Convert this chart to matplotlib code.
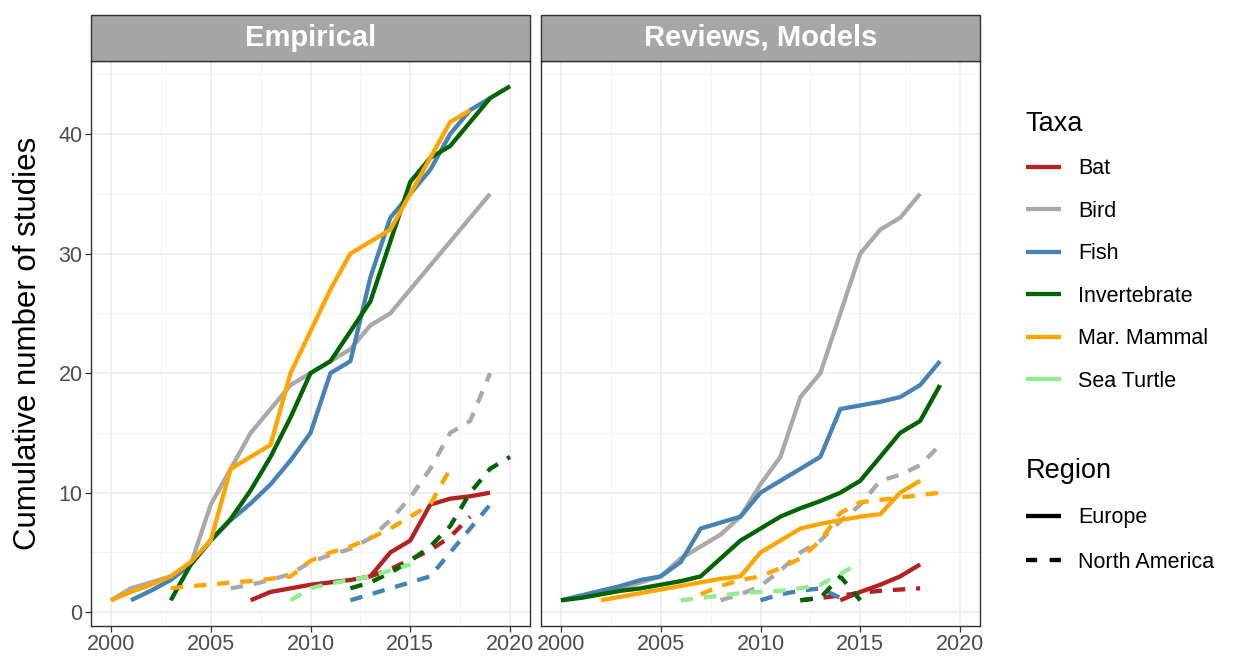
import matplotlib
matplotlib.use("Agg")
import matplotlib.pyplot as plt
from matplotlib.lines import Line2D
from matplotlib.patches import Rectangle
from matplotlib.ticker import MultipleLocator

plt.rcParams['font.family'] = ['Liberation Sans', 'DejaVu Sans']

# ---------------- data ----------------
taxa = ["Bat", "Bird", "Fish", "Invertebrate", "Mar. Mammal", "Sea Turtle"]
taxa_colors = ["#B22222", "#A9A9A9", "#4682B4", "#006400", "#FFA500", "#90EE90"]
regions = ["Europe", "North America"]
panels = ["Empirical", "Reviews, Models"]

# Empirical - Europe
emp_eu_bat_x = list(range(2007, 2020))
emp_eu_bat_y = [1, 1.7, 2, 2.3, 2.5, 2.7, 3, 5, 6, 9, 9.5, 9.7, 10]
emp_eu_bird_x = list(range(2000, 2020))
emp_eu_bird_y = [1, 2, 2.5, 3, 4, 9, 12, 15, 17, 19, 20, 21, 22, 24, 25, 27, 29, 31, 33, 35]
emp_eu_fish_x = list(range(2001, 2020))
emp_eu_fish_y = [1, 1.8, 2.7, 4, 6, 7.7, 9.1, 10.7, 12.7, 15, 20, 21, 28, 33, 35, 37, 40, 42, 43]
emp_eu_inv_x = list(range(2003, 2021))
emp_eu_inv_y = [1, 4, 6, 7.8, 10.2, 13, 16.3, 20, 21, 23.5, 26, 31, 36, 38, 39, 41, 43, 44]
emp_eu_mam_x = list(range(2000, 2019))
emp_eu_mam_y = [1, 1.7, 2.3, 3, 4.2, 6, 12, 13, 14, 20, 23.5, 27, 30, 31, 32, 35, 38, 41, 42]

# Empirical - North America
emp_na_bat_x = list(range(2013, 2019))
emp_na_bat_y = [3, 3.6, 4.4, 5.2, 6.3, 8]
emp_na_bird_x = list(range(2006, 2020))
emp_na_bird_y = [2, 2.3, 2.7, 3.2, 4.2, 4.8, 5.3, 6.2, 7.7, 9.6, 12, 15, 16, 20]
emp_na_fish_x = list(range(2012, 2020))
emp_na_fish_y = [1, 1.5, 2, 2.5, 3, 5, 7, 9]
emp_na_inv_x = list(range(2012, 2021))
emp_na_inv_y = [2, 2.5, 3.3, 4.3, 5.5, 7.2, 10, 12, 13]
emp_na_mam_x = list(range(2003, 2018))
emp_na_mam_y = [2, 2.2, 2.3, 2.5, 2.6, 2.8, 3, 4.3, 5, 5.5, 6.2, 7, 8, 9, 12]
emp_na_turtle_x = list(range(2009, 2016))
emp_na_turtle_y = [1, 2, 2.4, 2.7, 3, 3.5, 4]

# Reviews, Models - Europe
rev_eu_bat_x = list(range(2014, 2019))
rev_eu_bat_y = [1, 1.7, 2.3, 3, 4]
rev_eu_bird_x = list(range(2000, 2019))
rev_eu_bird_y = [1, 1.3, 1.7, 2, 2.5, 3, 4.5, 5.5, 6.5, 8, 10.7, 13, 18, 20, 25, 30, 32, 33, 35]
rev_eu_fish_x = list(range(2000, 2020))
rev_eu_fish_y = [1, 1.4, 1.8, 2.2, 2.7, 3, 4.2, 7, 7.5, 8, 10, 11, 12, 13, 17, 17.3, 17.6, 18, 19, 21]
rev_eu_inv_x = list(range(2000, 2020))
rev_eu_inv_y = [1, 1.2, 1.5, 1.8, 2, 2.3, 2.6, 3, 4.5, 6, 7, 8, 8.7, 9.3, 10, 11, 13, 15, 16, 19]
rev_eu_mam_x = list(range(2002, 2019))
rev_eu_mam_y = [1, 1.3, 1.6, 1.9, 2.2, 2.5, 2.8, 3, 5, 6, 7, 7.4, 7.7, 8, 8.2, 10, 11]

# Reviews, Models - North America
rev_na_bat_x = list(range(2012, 2019))
rev_na_bat_y = [1, 1.2, 1.4, 1.6, 1.8, 1.9, 2]
rev_na_bird_x = list(range(2008, 2020))
rev_na_bird_y = [1, 1.5, 2.2, 3.5, 5, 6, 7.6, 9, 11, 11.5, 12.3, 14]
rev_na_fish_x = list(range(2010, 2015))
rev_na_fish_y = [1, 1.5, 1.8, 2, 1.2]
rev_na_inv_x = list(range(2012, 2016))
rev_na_inv_y = [1, 1.2, 3, 1]
rev_na_mam_x = list(range(2007, 2020))
rev_na_mam_y = [1.5, 2.2, 2.7, 3, 3.7, 4.5, 6, 8.3, 9.2, 9.4, 9.6, 9.8, 10]
rev_na_turtle_x = list(range(2006, 2016))
rev_na_turtle_y = [1, 1.2, 1.4, 1.6, 1.7, 1.8, 2, 2.3, 3.2, 4.2]

# (panel, taxon, region, x, y)
series = [
    ("Empirical", "Bat", "Europe", emp_eu_bat_x, emp_eu_bat_y),
    ("Empirical", "Bat", "North America", emp_na_bat_x, emp_na_bat_y),
    ("Empirical", "Bird", "Europe", emp_eu_bird_x, emp_eu_bird_y),
    ("Empirical", "Bird", "North America", emp_na_bird_x, emp_na_bird_y),
    ("Empirical", "Fish", "Europe", emp_eu_fish_x, emp_eu_fish_y),
    ("Empirical", "Fish", "North America", emp_na_fish_x, emp_na_fish_y),
    ("Empirical", "Invertebrate", "Europe", emp_eu_inv_x, emp_eu_inv_y),
    ("Empirical", "Invertebrate", "North America", emp_na_inv_x, emp_na_inv_y),
    ("Empirical", "Mar. Mammal", "Europe", emp_eu_mam_x, emp_eu_mam_y),
    ("Empirical", "Mar. Mammal", "North America", emp_na_mam_x, emp_na_mam_y),
    ("Empirical", "Sea Turtle", "North America", emp_na_turtle_x, emp_na_turtle_y),
    ("Reviews, Models", "Bat", "Europe", rev_eu_bat_x, rev_eu_bat_y),
    ("Reviews, Models", "Bat", "North America", rev_na_bat_x, rev_na_bat_y),
    ("Reviews, Models", "Bird", "Europe", rev_eu_bird_x, rev_eu_bird_y),
    ("Reviews, Models", "Bird", "North America", rev_na_bird_x, rev_na_bird_y),
    ("Reviews, Models", "Fish", "Europe", rev_eu_fish_x, rev_eu_fish_y),
    ("Reviews, Models", "Fish", "North America", rev_na_fish_x, rev_na_fish_y),
    ("Reviews, Models", "Invertebrate", "Europe", rev_eu_inv_x, rev_eu_inv_y),
    ("Reviews, Models", "Invertebrate", "North America", rev_na_inv_x, rev_na_inv_y),
    ("Reviews, Models", "Mar. Mammal", "Europe", rev_eu_mam_x, rev_eu_mam_y),
    ("Reviews, Models", "Mar. Mammal", "North America", rev_na_mam_x, rev_na_mam_y),
    ("Reviews, Models", "Sea Turtle", "North America", rev_na_turtle_x, rev_na_turtle_y),
]

x_ticks = [2000, 2005, 2010, 2015, 2020]
y_ticks = [0, 10, 20, 30, 40]

# ---------------- figure ----------------
W, H = 1237, 661
fig = plt.figure(figsize=(W / 100, H / 100), dpi=100)

def px_rect(x0, x1, ytop, ybot):
    return [x0 / W, 1 - ybot / H, (x1 - x0) / W, (ybot - ytop) / H]

ax_top, ax_bot = 60.5, 626
axes = {
    "Empirical": fig.add_axes(px_rect(91, 530, ax_top, ax_bot)),
    "Reviews, Models": fig.add_axes(px_rect(541, 980, ax_top, ax_bot)),
}

color_of = dict(zip(taxa, taxa_colors))
LW = 3.1
DASH = (2.9, 2.5)

for i, (panel, taxon, region, xs, ys) in enumerate(series):
    ax = axes[panel]
    ln, = ax.plot(xs, ys, color=color_of[taxon], lw=LW,
                  solid_capstyle="butt", dash_capstyle="butt",
                  solid_joinstyle="round", zorder=3 + taxa.index(taxon) * 0.1)
    if region == "North America":
        ln.set_dashes(DASH)

strip_h = 45.5 / (ax_bot - ax_top)
for name, ax in axes.items():
    ax.set_xlim(1999, 2021)
    ax.set_ylim(-1.15, 46.15)
    ax.set_xticks(x_ticks)
    ax.set_yticks(y_ticks)
    ax.xaxis.set_minor_locator(MultipleLocator(2.5))
    ax.yaxis.set_minor_locator(MultipleLocator(5))
    ax.grid(which="major", color="#EBEBEB", lw=1.1, zorder=0)
    ax.grid(which="minor", color="#F2F2F2", lw=0.6, zorder=0)
    ax.set_axisbelow(True)
    for s in ax.spines.values():
        s.set_color("#333333")
        s.set_linewidth(1.0)
    ax.tick_params(which="minor", length=0)
    ax.tick_params(which="major", length=4, width=0.9, color="#333333",
                   labelsize=15.5, labelcolor="#4D4D4D", pad=2)
    ax.add_patch(Rectangle((0, 1), 1, strip_h, transform=ax.transAxes,
                           facecolor="#A6A6A6", edgecolor="#333333",
                           lw=1.0, clip_on=False, zorder=5))
    ax.text(0.5, 1 + strip_h / 2, name, transform=ax.transAxes,
            ha="center", va="center", color="white", fontsize=21,
            fontweight="bold", zorder=6)

axes["Empirical"].set_ylabel("Cumulative number of studies", fontsize=22.5,
                             color="black", labelpad=11)
axes["Reviews, Models"].tick_params(axis="y", left=False, labelleft=False)

# ---------------- legends ----------------
taxa_handles = [Line2D([0], [0], color=c, lw=LW, solid_capstyle="butt")
                for c in taxa_colors]
leg1 = fig.legend(taxa_handles, taxa, title="Taxa", loc="upper left",
                  bbox_to_anchor=(1017 / W, 1 - 102 / H), frameon=False,
                  fontsize=15.5, title_fontsize=19.5, handlelength=1.63,
                  labelspacing=1.0, handletextpad=0.8, borderaxespad=0)
leg1._legend_box.align = "left"

reg_handles = [Line2D([0], [0], color="black", lw=LW, solid_capstyle="butt"),
               Line2D([0], [0], color="black", lw=LW, dash_capstyle="butt",
                      dashes=(2.6, 2.9))]
leg2 = fig.legend(reg_handles, regions, title="Region", loc="upper left",
                  bbox_to_anchor=(1017 / W, 1 - 449 / H), frameon=False,
                  fontsize=15.5, title_fontsize=19.5, handlelength=1.63,
                  labelspacing=1.1, handletextpad=0.8, borderaxespad=0)
leg2._legend_box.align = "left"

fig.savefig("out.png", dpi=100)
